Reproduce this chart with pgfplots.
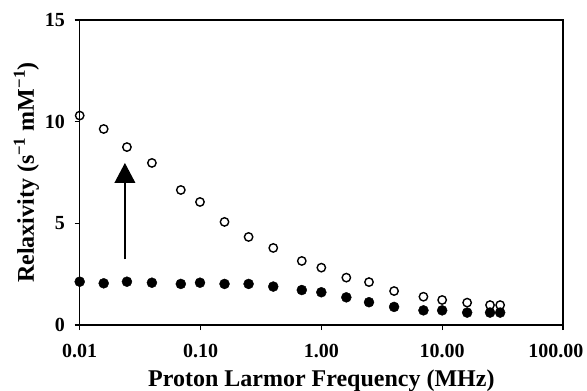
\documentclass[border=0pt]{standalone}
\usepackage{fontspec}
\setmainfont{Liberation Serif}
\usepackage{pgfplots}
\pgfplotsset{compat=1.18}
\usetikzlibrary{arrows.meta}
\begin{document}
\begin{tikzpicture}
\useasboundingbox (-79.7pt,-66pt) rectangle (507.3pt,325pt);
\begin{axis}[
  at={(0,0)}, anchor=south west,
  scale only axis, width=483.3pt, height=305pt,
  xmode=log, xmin=0.01, xmax=100,
  ymin=0, ymax=15,
  xtick={0.01,0.1,1,10,100},
  xticklabels={0.01,0.10,1.00,10.00,\hspace{-14pt}100.00},
  ytick={0,5,10,15},
  yticklabels={0,5,10,15},
  xminorticks=false, yminorticks=false,
  tick align=outside, major tick length=5pt,
  xtick pos=bottom, ytick pos=left,
  axis line style={line width=1.4pt},
  every tick/.style={line width=1.2pt, black},
  tick label style={font=\fontsize{20}{24}\selectfont\bfseries, inner sep=0pt},
  xticklabel style={anchor=base, yshift=-27.7pt},
  yticklabel style={anchor=east, xshift=-9.7pt},
  every axis x label/.style={at={(axis description cs:0.5,0)}, anchor=base, yshift=-61pt, font=\fontsize{24}{28}\selectfont\bfseries, inner sep=0pt},
  every axis y label/.style={at={(axis description cs:-0.137,0.5)}, anchor=north, rotate=90, font=\fontsize{24}{28}\selectfont\bfseries, inner sep=0pt},
  xlabel={Proton Larmor Frequency (MHz)},
  ylabel={Relaxivity (s\textsuperscript{−1} mM\textsuperscript{−1})},
  clip=false,
]
% open circles
\addplot[only marks, mark=o, mark size=4.2pt, mark options={line width=1.4pt, black}] coordinates {
(0.01,10.3) (0.0158,9.64) (0.0246,8.75) (0.0396,7.97) (0.0687,6.64) (0.099,6.05)
(0.158,5.07) (0.25,4.33) (0.40,3.79) (0.689,3.15) (1.0,2.82) (1.61,2.33)
(2.48,2.11) (4.0,1.67) (7.0,1.39) (10,1.23) (16.1,1.10) (24.9,0.98) (30.2,0.98)
};
% filled circles
\addplot[only marks, mark=*, mark size=5pt, mark options={black, fill=black}] coordinates {
(0.01,2.13) (0.0158,2.05) (0.0246,2.13) (0.0396,2.08) (0.0687,2.02) (0.099,2.08)
(0.158,2.02) (0.25,2.02) (0.40,1.89) (0.689,1.72) (1.0,1.61) (1.61,1.36)
(2.48,1.12) (4.0,0.89) (7.0,0.72) (10,0.72) (16.1,0.61) (24.9,0.61) (30.2,0.61)
};
% arrow
\addplot[black, line width=1.5pt, -{Triangle[width=20.7pt,length=20pt]}] coordinates {(0.02367,3.23) (0.02367,7.97)};
\end{axis}
\end{tikzpicture}
\end{document}
